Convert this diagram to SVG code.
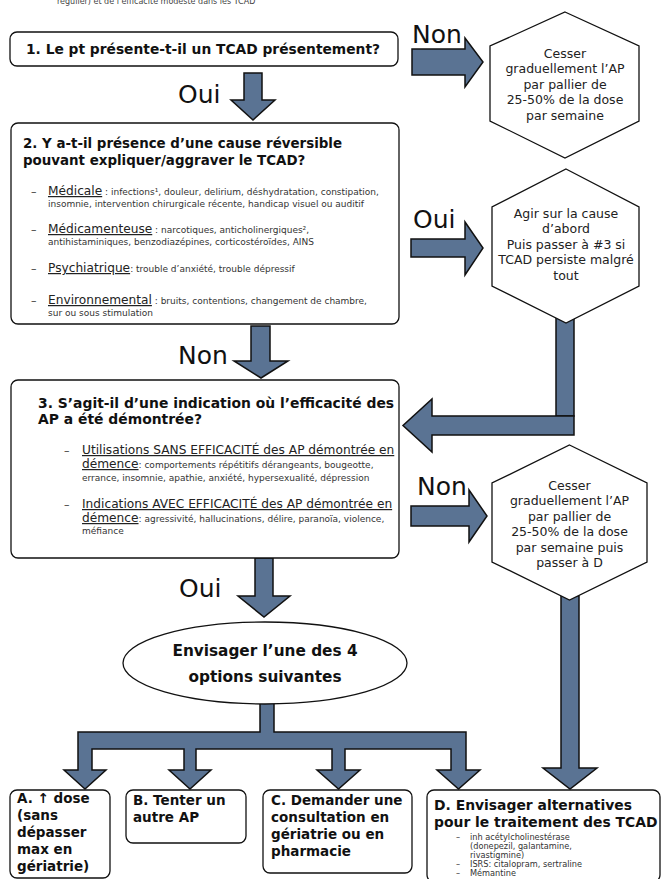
<svg xmlns="http://www.w3.org/2000/svg" width="663" height="879" viewBox="0 0 663 879">
<style>
text { font-family: "DejaVu Sans", "Liberation Sans", sans-serif; fill: #111; }
.box { fill: #fff; stroke: #111; stroke-width: 1.3; }
.arrow { fill: #5a7393; stroke: #111; stroke-width: 1.5; stroke-linejoin: miter; }
.lbl { font-size: 25px; }
.t1 { font-weight: bold; font-size: 13.8px; }
.hx { font-size: 12.5px; text-anchor: middle; fill: #222; }
.u { font-size: 12.2px; text-decoration: underline; fill: #222; }
.sm { font-size: 9px; fill: #333; }
.dash { font-size: 11px; fill: #333; }
.opt { font-weight: bold; font-size: 13.5px; }
.bul { font-size: 8.2px; fill: #333; }
.top { font-size: 8px; fill: #444; }
</style>

<text class="top" x="57" y="4">régulier) et de l’efficacité modeste dans les TCAD</text>

<g id="connectors">
  <polygon class="arrow" points="412,49 465,49 465,38 483,62 465,87 465,75 412,75"/>
  <polygon class="arrow" points="244,73 262,73 262,100 275,100 253,120 231,100 244,100"/>
  <polygon class="arrow" points="411,239 465,239 465,222 483,248 465,275 465,257 411,257"/>
  <rect class="arrow" x="556" y="316" width="18" height="100"/>
  <polygon class="arrow" points="574,416 574,435 432,435 432,452 403,425.5 432,399 432,416"/>
  <polygon class="arrow" points="251,326 270,326 270,361 288,361 261,378 234,361 251,361"/>
  <polygon class="arrow" points="411,506 469,506 469,490 487,516 469,542 469,526 411,526"/>
  <polygon class="arrow" points="255,558 273,558 273,596 290,596 264,617 238,596 255,596"/>
  <polygon class="arrow" points="561,596 579,596 579,768 597,768 570,789 543,768 561,768"/>
  <polygon class="arrow" points="260,698 274,698 274,732 466,732 466,770 480,770 458.5,789 437,770 451,770 451,749 345,749 345,770 360,770 338.5,789 317,770 332,770 332,749 196,749 196,770 211,770 190,789 169,770 184,770 184,749 92,749 92,770 106,770 85,789 64,770 78,770 78,732 260,732"/>
  <text class="lbl" x="412" y="43">Non</text>
  <text class="lbl" x="178" y="103">Oui</text>
  <text class="lbl" x="413" y="228">Oui</text>
  <text class="lbl" x="178" y="364">Non</text>
  <text class="lbl" x="417" y="495">Non</text>
  <text class="lbl" x="179" y="597">Oui</text>
</g>

<g id="q1">
  <rect class="box" x="10" y="32" width="388" height="34" rx="7"/>
  <text class="t1" x="26" y="54">1. Le pt présente-t-il un TCAD présentement?</text>
</g>

<g id="stop1">
  <polygon class="box" points="565,12 639,46 639,121 565,158 490,121 490,46"/>
  <text class="hx"><tspan x="565" y="57.5">Cesser</tspan><tspan x="565" y="73">graduellement l’AP</tspan><tspan x="565" y="88.5">par pallier de</tspan><tspan x="565" y="104">25-50% de la dose</tspan><tspan x="565" y="119.5">par semaine</tspan></text>
</g>

<g id="q2">
  <rect class="box" x="11" y="123" width="388" height="201" rx="7"/>
  <text class="t1" style="font-size:13.4px"><tspan x="23" y="148">2. Y a-t-il présence d’une cause réversible</tspan><tspan x="23" y="165">pouvant expliquer/aggraver le TCAD?</tspan></text>
  <text class="dash" x="31" y="195">–</text>
  <text x="48" y="195"><tspan class="u">Médicale</tspan><tspan class="sm"> : infections¹, douleur, delirium, déshydratation, constipation,</tspan></text>
  <text class="sm" x="48" y="207">insomnie, intervention chirurgicale récente, handicap visuel ou auditif</text>
  <text class="dash" x="31" y="233">–</text>
  <text x="48" y="233"><tspan class="u">Médicamenteuse</tspan><tspan class="sm"> : narcotiques, anticholinergiques²,</tspan></text>
  <text class="sm" x="48" y="245">antihistaminiques, benzodiazépines, corticostéroïdes, AINS</text>
  <text class="dash" x="31" y="272">–</text>
  <text x="48" y="272"><tspan class="u">Psychiatrique</tspan><tspan class="sm">: trouble d’anxiété, trouble dépressif</tspan></text>
  <text class="dash" x="31" y="304">–</text>
  <text x="48" y="304"><tspan class="u">Environnemental</tspan><tspan class="sm"> : bruits, contentions, changement de chambre,</tspan></text>
  <text class="sm" x="48" y="316">sur ou sous stimulation</text>
</g>

<g id="cause">
  <polygon class="box" points="566,169 639,207 639,286 566,323 492,286 492,207"/>
  <text class="hx"><tspan x="566" y="217.5">Agir sur la cause</tspan><tspan x="566" y="233">d’abord</tspan><tspan x="566" y="248.5">Puis passer à #3 si</tspan><tspan x="566" y="264">TCAD persiste malgré</tspan><tspan x="566" y="279.5">tout</tspan></text>
</g>

<g id="q3">
  <rect class="box" x="11" y="380" width="388" height="178" rx="7"/>
  <text class="t1" style="font-size:13.9px"><tspan x="38" y="408">3. S’agit-il d’une indication où l’efficacité des</tspan><tspan x="38" y="424">AP a été démontrée?</tspan></text>
  <text class="dash" x="64" y="454">–</text>
  <text x="82" y="454"><tspan class="u">Utilisations SANS EFFICACITÉ  des AP démontrée en</tspan></text>
  <text x="82" y="468"><tspan class="u">démence</tspan><tspan class="sm">: comportements répétitifs dérangeants, bougeotte,</tspan></text>
  <text class="sm" x="82" y="481">errance, insomnie, apathie, anxiété, hypersexualité, dépression</text>
  <text class="dash" x="64" y="508">–</text>
  <text x="82" y="508"><tspan class="u">Indications AVEC EFFICACITÉ des AP démontrée en</tspan></text>
  <text x="82" y="522"><tspan class="u">démence</tspan><tspan class="sm">: agressivité, hallucinations, délire, paranoïa, violence,</tspan></text>
  <text class="sm" x="82" y="534">méfiance</text>
</g>

<g id="stop2">
  <polygon class="box" points="569.5,445 647,483 647,562 569.5,600 492,562 492,483"/>
  <text class="hx"><tspan x="569.5" y="489.5">Cesser</tspan><tspan x="569.5" y="505">graduellement l’AP</tspan><tspan x="569.5" y="520.5">par pallier de</tspan><tspan x="569.5" y="536">25-50% de la dose</tspan><tspan x="569.5" y="551.5">par semaine puis</tspan><tspan x="569.5" y="567">passer à D</tspan></text>
</g>

<g id="options">
  <ellipse class="box" cx="265" cy="663" rx="142" ry="41"/>
  <text style="font-weight:bold;font-size:15.3px;text-anchor:middle"><tspan x="265" y="656">Envisager l’une des 4</tspan><tspan x="265" y="682">options suivantes</tspan></text>
</g>

<g id="optA">
  <rect class="box" x="10" y="790" width="100" height="88" rx="7"/>
  <text class="opt"><tspan x="17" y="803">A. ↑ dose</tspan><tspan x="17" y="820">(sans</tspan><tspan x="17" y="837">dépasser</tspan><tspan x="17" y="854">max en</tspan><tspan x="17" y="871">gériatrie)</tspan></text>
</g>

<g id="optB">
  <rect class="box" x="126" y="790" width="120" height="53" rx="7"/>
  <text class="opt"><tspan x="133" y="805">B. Tenter un</tspan><tspan x="133" y="822">autre AP</tspan></text>
</g>

<g id="optC">
  <rect class="box" x="263" y="790" width="149" height="83" rx="7"/>
  <text class="opt"><tspan x="271" y="805">C. Demander une</tspan><tspan x="271" y="822">consultation en</tspan><tspan x="271" y="839">gériatrie ou en</tspan><tspan x="271" y="856">pharmacie</tspan></text>
</g>

<g id="optD">
  <rect class="box" x="427" y="790" width="233" height="92" rx="7"/>
  <text style="font-weight:bold;font-size:13.9px"><tspan x="434" y="810">D. Envisager alternatives</tspan><tspan x="434" y="827">pour le traitement des TCAD</tspan></text>
  <text class="bul" x="456" y="840">–</text>
  <text class="bul"><tspan x="470" y="840">inh acétylcholinestérase</tspan><tspan x="470" y="849">(donepezil, galantamine,</tspan><tspan x="470" y="858">rivastigmine)</tspan></text>
  <text class="bul" x="456" y="867">–</text>
  <text class="bul" x="470" y="867">ISRS: citalopram, sertraline</text>
  <text class="bul" x="456" y="876">–</text>
  <text class="bul" x="470" y="876">Mémantine</text>
</g>
</svg>
